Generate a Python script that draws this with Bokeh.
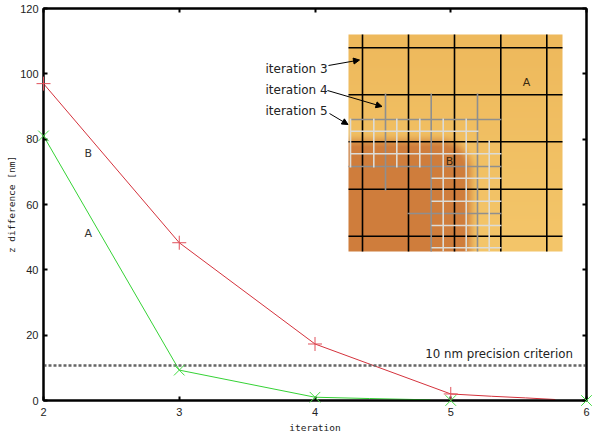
import numpy as np
from bokeh.plotting import figure
from bokeh.models import Range1d, LinearAxis, FixedTicker, Arrow, NormalHead
from bokeh.core.properties import value
from bokeh.embed import file_html
from bokeh.resources import INLINE

# chart values
red_x = [2, 3, 4, 5, 5.3, 5.55, 5.77]
red_y = [97, 48.3, 17.3, 2, 1.3, 0.8, 0.3]
red_mx = [2, 3, 4, 5]
red_my = [97, 48.3, 17.3, 2]
green_x = [2, 3, 4, 4.4, 4.85]
green_y = [81, 9.3, 1, 0.6, 0.2]
green_mx = [2, 3, 4, 5, 6]
green_my = [81, 9.3, 1, 0, 0]
criterion_y = 10.7
x_ticks = [2, 3, 4, 5, 6]
y_ticks = [0, 20, 40, 60, 80, 100, 120]

# inset, in reference pixels
inset_box = (348, 562, 34, 251)
black_v = [362, 408, 454, 500.3, 546.3]
black_h = [47.3, 94.3, 141.3, 188.7, 235.7]
grey_v = [(385, 93, 190), (430.7, 93, 251), (477, 93, 251)]
grey_h = [(119, 350, 501), (166, 348, 501), (213, 407, 501)]
white_v = [(350, 118, 167), (373.3, 118, 167), (396.3, 118, 167), (419.3, 118, 167),
           (442.7, 118, 251), (465.7, 118, 251), (488.7, 140, 251)]
white_h = [(130.7, 350, 478), (153.3, 350, 501), (177.7, 431, 501), (200.7, 431, 501),
           (225, 431, 501), (247.3, 431, 501)]
labels = ["iteration 3", "iteration 4", "iteration 5"]
label_y = [68, 89, 110]
arrow_from = [(328, 65), (327, 90), (329, 113)]
arrow_to = [(359, 59.5), (381.5, 106), (347.5, 124)]

W, H = 600, 437
L, R, T, B = 43, 586, 8, 400
p = figure(width=W, height=H, output_backend="svg", toolbar_location=None,
           frame_width=R - L, frame_height=B - T,
           x_range=Range1d(2, 6), y_range=Range1d(0, 120),
           min_border_left=L, min_border_right=W - R, min_border_top=T, min_border_bottom=H - B,
           margin=0, x_axis_label="iteration", y_axis_label="z difference [nm]")
p.grid.visible = False
p.outline_line_color = "black"
p.outline_line_width = 2
p.background_fill_color = "white"
p.border_fill_color = "white"
p.extra_x_ranges["px"] = Range1d(L, R)
p.extra_y_ranges["px"] = Range1d(B, T)

FONT = "DejaVu Sans"
TICK_FONT = "Liberation Sans"
for ax, ticks in ((p.xaxis[0], x_ticks), (p.yaxis[0], y_ticks)):
    ax.ticker = FixedTicker(ticks=ticks)
    ax.major_tick_in = 4
    ax.major_tick_out = 0
    ax.minor_tick_line_color = None
    ax.axis_line_width = 2
    ax.major_tick_line_width = 2
    ax.major_label_text_font = TICK_FONT
    ax.major_label_text_font_size = "11px"
    ax.major_label_text_color = "#222222"
    ax.axis_label_text_font = "DejaVu Sans Mono"
    ax.axis_label_text_font_size = "9.5px"
    ax.axis_label_text_font_style = "normal"
    ax.axis_label_text_color = "#222222"
p.xaxis[0].major_label_standoff = 7
p.xaxis[0].axis_label_standoff = 3
p.yaxis[0].major_label_standoff = 5
p.yaxis[0].axis_label_standoff = 0

top = LinearAxis(ticker=FixedTicker(ticks=x_ticks), major_label_overrides={t: "" for t in x_ticks},
                 major_tick_in=4, major_tick_out=0, minor_tick_line_color=None,
                 major_tick_line_width=2, axis_line_width=2)
right = LinearAxis(ticker=FixedTicker(ticks=y_ticks), major_label_overrides={t: "" for t in y_ticks},
                   major_tick_in=4, major_tick_out=0, minor_tick_line_color=None,
                   major_tick_line_width=2, axis_line_width=2)
p.add_layout(top, "above")
p.add_layout(right, "right")

# inset backdrop (raster texture)
x0, x1, y0, y1 = inset_box
nx, ny = x1 - x0, y1 - y0
gx, gy = np.meshgrid(np.arange(nx) + x0 + .5, np.arange(ny) + y0 + .5)
qx = np.maximum(gx - 440, 0)
qy = np.maximum(170 - gy, 0)
d = np.hypot(qx, qy) - 30
t = np.clip((d + 8) / 16, 0, 1)
t = t * t * (3 - 2 * t)
mask = (1 - t)[..., None]
light = np.stack([238 + 6 * (gy - y0) / ny, 185 + 13 * (gy - y0) / ny, 92 + 14 * (gy - y0) / ny], -1)
dark = np.array([207, 125, 60.0])
rgb = light * (1 - mask) + dark * mask
img = np.dstack([rgb.astype(np.uint8), np.full((ny, nx), 255, np.uint8)])
view = img.view(np.uint32).reshape(ny, nx)
p.image_rgba(image=[view], x=x0, y=y0, dw=nx, dh=ny,
             x_range_name="px", y_range_name="px", level="underlay")


def segs(color, width, v, h):
    xs, ys = [], []
    for x, a, b in v:
        xs.append([x, x]); ys.append([a, b])
    for y, a, b in h:
        xs.append([a, b]); ys.append([y, y])
    p.multi_line(xs, ys, line_color=color, line_width=width,
                 x_range_name="px", y_range_name="px")


segs("black", 1.6, [(x, y0, y1) for x in black_v], [(y, x0, x1) for y in black_h])
segs("#8f8f8f", 1.6, grey_v, grey_h)
segs("#dcdcd8", 1.6, white_v, white_h)

# series
p.line(red_x, red_y, line_color="#d4323c", line_width=1)
p.line(green_x, green_y, line_color="#35d235", line_width=1)
p.scatter(red_mx, red_my, marker="cross", size=14, line_color="#e0505a", line_width=1, level="overlay")
p.scatter(green_mx, green_my, marker="x", size=15, line_color="#45dc45", line_width=1, level="overlay")
p.line([2, 6], [criterion_y, criterion_y], line_color="#666666", line_width=2.5, line_dash="3 2")

tf = value(FONT)
p.text([5.9], [14.2], text=["10 nm precision criterion"], text_align="right", text_baseline="middle",
       text_font=tf, text_font_size="11.8px", text_color="#222222")
p.text([2.33, 2.33], [75.5, 51], text=["B", "A"], text_align="center", text_baseline="middle",
       text_font=tf, text_font_size="11px", text_color="#333333")
p.text([526, 449], [82, 161], text=["A", "B"], x_range_name="px", y_range_name="px",
       text_align="center", text_baseline="middle", text_font=tf, text_font_size="11px", text_color="#3a2a10")
p.text([265] * 3, label_y, text=labels, x_range_name="px", y_range_name="px",
       text_align="left", text_baseline="middle", text_font=tf, text_font_size="12px", text_color="#222222")

for (a, b), (c, d_) in zip(arrow_from, arrow_to):
    p.add_layout(Arrow(end=NormalHead(size=6, fill_color="black", line_color="black"),
                       x_start=a, y_start=b, x_end=c, y_end=d_,
                       x_range_name="px", y_range_name="px",
                       line_color="black", line_width=1))

open("out.html", "w").write(file_html(p, INLINE))
